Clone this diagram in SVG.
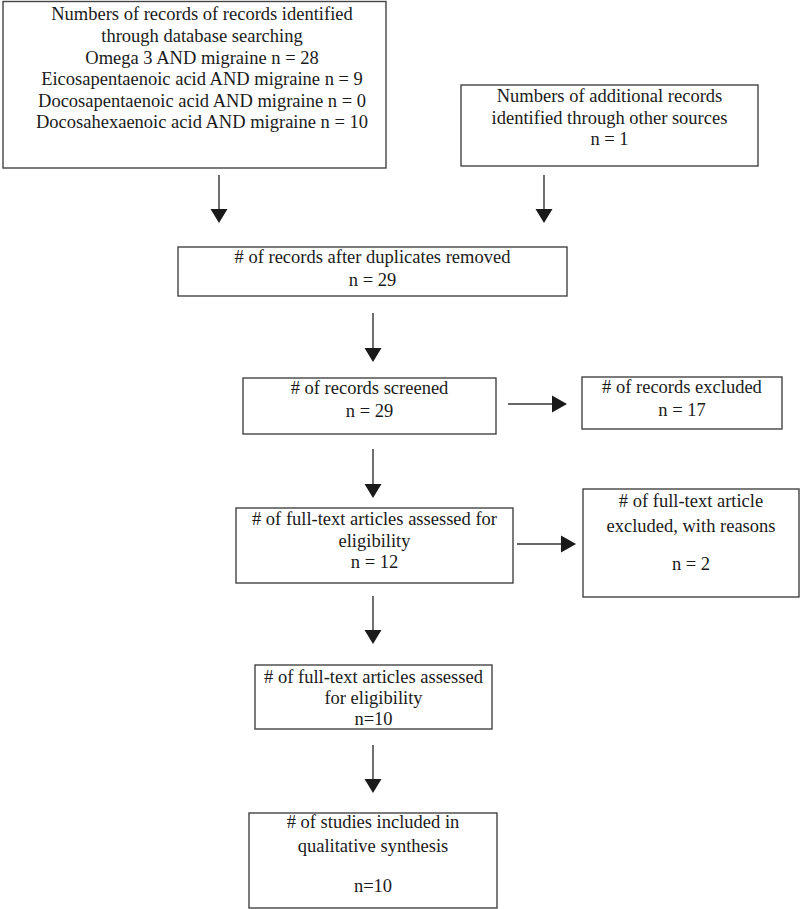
<svg xmlns="http://www.w3.org/2000/svg" width="800" height="909" viewBox="0 0 800 909">
<style>
rect.box{fill:#fff;stroke:#444;stroke-width:1.4}
text{font-family:"Liberation Serif","Times New Roman",serif;font-size:18.5px;fill:#1a1a1a;text-anchor:middle}
.conn line{stroke:#333;stroke-width:1.4}
.conn polygon{fill:#1a1a1a}
</style>
<rect width="800" height="909" fill="#fff"/>
<g id="n1"><rect class="box" x="3" y="1.5" width="383" height="166.5"/>
<text x="202" y="20">Numbers of records of records identified</text>
<text x="202" y="42">through database searching</text>
<text x="202" y="64">Omega 3 AND migraine n = 28</text>
<text x="202" y="85">Eicosapentaenoic acid AND migraine n = 9</text>
<text x="202" y="107">Docosapentaenoic acid AND migraine n = 0</text>
<text x="202" y="128">Docosahexaenoic acid AND migraine n = 10</text></g>
<g id="n2"><rect class="box" x="461" y="85" width="297" height="81"/>
<text x="609.5" y="102">Numbers of additional records</text>
<text x="609.5" y="124">identified through other sources</text>
<text x="609.5" y="145">n = 1</text></g>
<g id="n3"><rect class="box" x="178" y="247" width="389" height="49"/>
<text x="372.5" y="263"># of records after duplicates removed</text>
<text x="372.5" y="286">n = 29</text></g>
<g id="n4"><rect class="box" x="243" y="378" width="253" height="56"/>
<text x="369.5" y="394"># of records screened</text>
<text x="369.5" y="417">n = 29</text></g>
<g id="n5"><rect class="box" x="582" y="377" width="200" height="52"/>
<text x="682" y="393"># of records excluded</text>
<text x="682" y="416">n = 17</text></g>
<g id="n6"><rect class="box" x="236" y="508" width="277" height="75"/>
<text x="374.5" y="525"># of full-text articles assessed for</text>
<text x="374.5" y="547">eligibility</text>
<text x="374.5" y="568">n = 12</text></g>
<g id="n7"><rect class="box" x="583" y="489" width="216" height="108"/>
<text x="691" y="507"># of full-text article</text>
<text x="691" y="532">excluded, with reasons</text>
<text x="691" y="570">n = 2</text></g>
<g id="n8"><rect class="box" x="255" y="665" width="237" height="64"/>
<text x="373.5" y="683"># of full-text articles assessed</text>
<text x="373.5" y="704">for eligibility</text>
<text x="373.5" y="725">n=10</text></g>
<g id="n9"><rect class="box" x="249" y="813" width="248" height="95"/>
<text x="373" y="828"># of studies included in</text>
<text x="373" y="852">qualitative synthesis</text>
<text x="373" y="892">n=10</text></g>
<g id="connectors" class="conn">
<line x1="219" y1="175" x2="219" y2="210"/><polygon points="210.5,209 227.5,209 219,223"/>
<line x1="544" y1="175" x2="544" y2="210"/><polygon points="535.5,209 552.5,209 544,223"/>
<line x1="373" y1="313" x2="373" y2="349"/><polygon points="364.5,348 381.5,348 373,362"/>
<line x1="508" y1="404" x2="553" y2="404"/><polygon points="552,395.5 552,412.5 567,404"/>
<line x1="373" y1="449" x2="373" y2="485"/><polygon points="364.5,484 381.5,484 373,498"/>
<line x1="517" y1="544" x2="562" y2="544"/><polygon points="561,535.5 561,552.5 576,544"/>
<line x1="373" y1="596" x2="373" y2="631"/><polygon points="364.5,630 381.5,630 373,644"/>
<line x1="373" y1="745" x2="373" y2="780"/><polygon points="364.5,779 381.5,779 373,793"/>
</g>
</svg>
